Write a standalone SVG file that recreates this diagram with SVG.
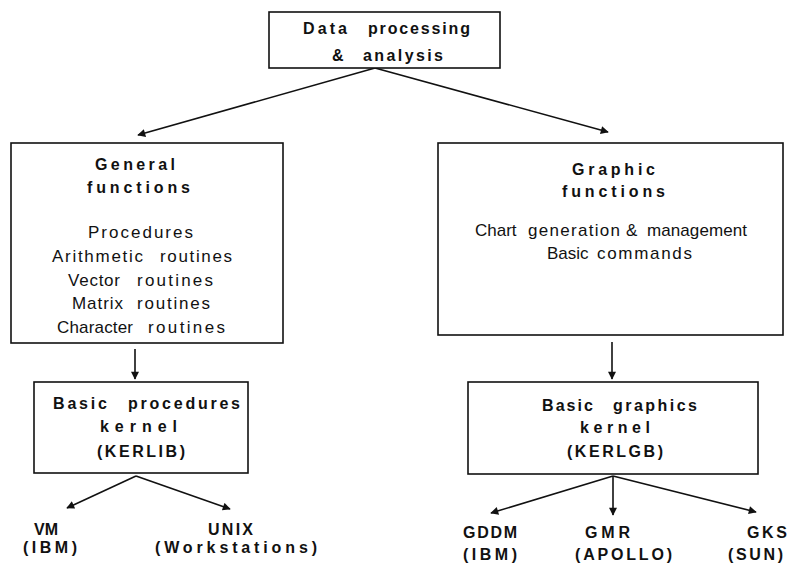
<svg xmlns="http://www.w3.org/2000/svg" width="788" height="565" viewBox="0 0 788 565">
  <style>
    .box { fill: #fff; stroke: #111; stroke-width: 1.6; }
    .hd { font-family: "Liberation Sans", Arial, sans-serif; font-weight: bold; font-size: 16px; fill: #111; }
    .tx { font-family: "Liberation Sans", Arial, sans-serif; font-size: 17px; fill: #111; }
    .edge { stroke: #111; stroke-width: 1.6; fill: none; marker-end: url(#arrow); }
  </style>
  <defs>
    <marker id="arrow" viewBox="0 0 10 10" refX="9" refY="5" markerWidth="9" markerHeight="8" markerUnits="userSpaceOnUse" orient="auto">
      <path d="M0,0 L10,5 L0,10 z" fill="#111"/>
    </marker>
  </defs>
  <rect width="788" height="565" fill="#fff"/>

  <g id="connectors">
    <line class="edge" x1="375" y1="68" x2="138" y2="135"/>
    <line class="edge" x1="375" y1="68" x2="608" y2="132"/>
    <line class="edge" x1="135" y1="349" x2="135" y2="379"/>
    <line class="edge" x1="612" y1="342" x2="612" y2="379"/>
    <line class="edge" x1="136" y1="476" x2="67" y2="508"/>
    <line class="edge" x1="136" y1="476" x2="230" y2="509"/>
    <line class="edge" x1="613" y1="476" x2="491" y2="513"/>
    <line class="edge" x1="613" y1="476" x2="613" y2="515"/>
    <line class="edge" x1="613" y1="476" x2="756" y2="512"/>
  </g>

  <!-- words are placed individually to keep the wide inter-word gaps -->
  <g id="data-processing">
    <rect class="box" x="269" y="12" width="231" height="56"/>
    <text class="hd" y="34"><tspan x="303" textLength="44" lengthAdjust="spacing">Data</tspan> <tspan x="368" textLength="102" lengthAdjust="spacing">processing</tspan></text>
    <text class="hd" y="61"><tspan x="332">&amp;</tspan> <tspan x="363" textLength="80" lengthAdjust="spacing">analysis</tspan></text>
  </g>

  <g id="general-functions">
    <rect class="box" x="11" y="143" width="272" height="200"/>
    <text class="hd" x="95" y="170" textLength="80" lengthAdjust="spacing">General</text>
    <text class="hd" x="87" y="193" textLength="103" lengthAdjust="spacing">functions</text>
    <text class="tx" x="88" y="238" textLength="105" lengthAdjust="spacing">Procedures</text>
    <text class="tx" y="262"><tspan x="52" textLength="91" lengthAdjust="spacing">Arithmetic</tspan> <tspan x="160" textLength="72" lengthAdjust="spacing">routines</tspan></text>
    <text class="tx" y="286"><tspan x="68" textLength="52" lengthAdjust="spacing">Vector</tspan> <tspan x="137" textLength="76" lengthAdjust="spacing">routines</tspan></text>
    <text class="tx" y="309"><tspan x="72" textLength="51" lengthAdjust="spacing">Matrix</tspan> <tspan x="137" textLength="73" lengthAdjust="spacing">routines</tspan></text>
    <text class="tx" y="333"><tspan x="57" textLength="76" lengthAdjust="spacing">Character</tspan> <tspan x="148" textLength="77" lengthAdjust="spacing">routines</tspan></text>
  </g>

  <g id="graphic-functions">
    <rect class="box" x="438" y="143" width="345" height="192"/>
    <text class="hd" x="572" y="175" textLength="83" lengthAdjust="spacing">Graphic</text>
    <text class="hd" x="562" y="197" textLength="103" lengthAdjust="spacing">functions</text>
    <text class="tx" y="236"><tspan x="475">Chart</tspan> <tspan x="528" textLength="92" lengthAdjust="spacing">generation</tspan> <tspan x="626">&amp;</tspan> <tspan x="647" textLength="100" lengthAdjust="spacing">management</tspan></text>
    <text class="tx" y="259"><tspan x="547">Basic</tspan> <tspan x="597" textLength="95" lengthAdjust="spacing">commands</tspan></text>
  </g>

  <g id="kerlib">
    <rect class="box" x="34" y="382" width="214" height="91"/>
    <text class="hd" y="409"><tspan x="53" textLength="54" lengthAdjust="spacing">Basic</tspan> <tspan x="128" textLength="112" lengthAdjust="spacing">procedures</tspan></text>
    <text class="hd" x="100" y="432" textLength="77" lengthAdjust="spacing">kernel</text>
    <text class="hd" x="97" y="457" textLength="88" lengthAdjust="spacing">(KERLIB)</text>
  </g>

  <g id="kerlgb">
    <rect class="box" x="468" y="382" width="290" height="92"/>
    <text class="hd" y="411"><tspan x="542" textLength="51" lengthAdjust="spacing">Basic</tspan> <tspan x="613" textLength="84" lengthAdjust="spacing">graphics</tspan></text>
    <text class="hd" x="580" y="433" textLength="70" lengthAdjust="spacing">kernel</text>
    <text class="hd" x="567" y="457" textLength="96" lengthAdjust="spacing">(KERLGB)</text>
  </g>

  <g id="vm">
    <text class="hd" x="34" y="535">VM</text>
    <text class="hd" x="23" y="553" textLength="54" lengthAdjust="spacing">(IBM)</text>
  </g>
  <g id="unix">
    <text class="hd" x="208" y="535" textLength="45" lengthAdjust="spacing">UNIX</text>
    <text class="hd" x="155" y="553" textLength="162" lengthAdjust="spacing">(Workstations)</text>
  </g>
  <g id="gddm">
    <text class="hd" x="463" y="538" textLength="54" lengthAdjust="spacing">GDDM</text>
    <text class="hd" x="463" y="560" textLength="54" lengthAdjust="spacing">(IBM)</text>
  </g>
  <g id="gmr">
    <text class="hd" x="585" y="538" textLength="45" lengthAdjust="spacing">GMR</text>
    <text class="hd" x="575" y="560" textLength="97" lengthAdjust="spacing">(APOLLO)</text>
  </g>
  <g id="gks">
    <text class="hd" x="747" y="538" textLength="40" lengthAdjust="spacing">GKS</text>
    <text class="hd" x="728" y="560" textLength="55" lengthAdjust="spacing">(SUN)</text>
  </g>
</svg>
